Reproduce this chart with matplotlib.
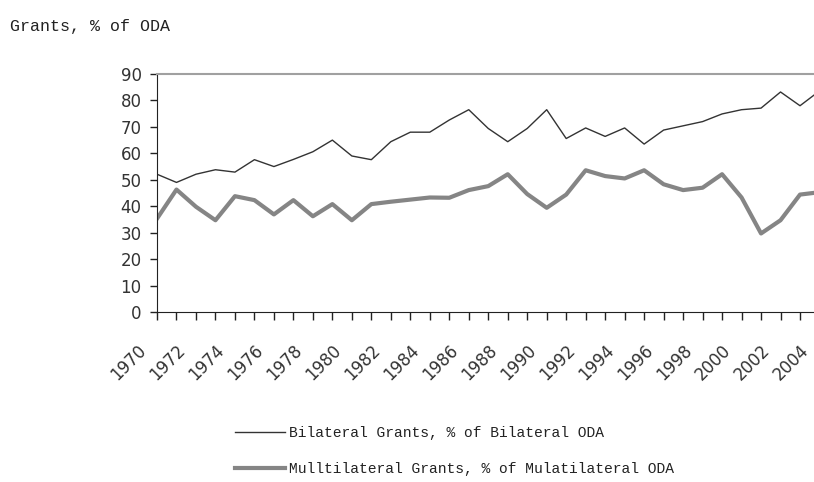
#!/usr/bin/env python

import matplotlib
matplotlib.use("Agg")
import matplotlib.pyplot as plt
from matplotlib.transforms import ScaledTranslation

years = list(range(1970, 2005))
bilateral = [52.1, 49.0, 52.1, 53.8, 52.9, 57.6, 55.0, 57.7, 60.6, 65.0,
             59.0, 57.6, 64.4, 68.0, 68.0, 72.6, 76.5, 69.4, 64.4, 69.4,
             76.5, 65.6, 69.6, 66.4, 69.6, 63.5, 68.8, 70.4, 72.0, 74.9,
             76.5, 77.1, 83.2, 78.0, 83.6]
multilateral = [35.3, 46.3, 39.8, 34.7, 43.8, 42.3, 36.9, 42.3, 36.2, 40.8,
                34.7, 40.8, 41.7, 42.5, 43.3, 43.2, 46.1, 47.6, 52.1, 44.6,
                39.4, 44.4, 53.6, 51.4, 50.5, 53.6, 48.3, 46.1, 47.0, 52.1,
                43.3, 29.7, 34.7, 44.4, 45.3]
label_bi = "Bilateral Grants, % of Bilateral ODA"
label_multi = "Mulltilateral Grants, % of Mulatilateral ODA"
title = "Grants, % of ODA"

W, H = 814, 482
fig = plt.figure(figsize=(W / 100, H / 100), dpi=100)
# axes runs a bit past the right edge like in the original
ax = fig.add_axes([157 / W, (H - 312) / H, (819.5 - 157) / W, (312 - 74) / H])

l1, = ax.plot(years, bilateral, color="#333333", lw=1.0)
l2, = ax.plot(years, multilateral, color="#858585", lw=3.0)

ax.set_xlim(1970, 2004)
ax.set_ylim(0, 90)
ax.set_yticks(range(0, 91, 10))
ax.set_xticks(range(1970, 2005, 2))
ax.set_xticks(range(1971, 2005, 2), minor=True)

ax.spines["right"].set_visible(False)
ax.spines["top"].set_color("#a0a0a0")
ax.spines["top"].set_linewidth(1.5)
ax.spines["left"].set_color("#222222")
ax.spines["bottom"].set_color("#222222")

ax.tick_params(axis="y", length=5, width=1, pad=6, labelsize=12, color="#222222")
ax.tick_params(axis="x", which="both", length=6, width=1, color="#222222")
ax.tick_params(axis="x", which="major", pad=15, labelsize=12)

shift = ScaledTranslation(-7 / 100, 0, fig.dpi_scale_trans)
for lab in ax.get_xticklabels():
    lab.set_rotation(45)
    lab.set_ha("right")
    lab.set_va("top")
    lab.set_transform(lab.get_transform() + shift)
for lab in ax.get_xticklabels() + ax.get_yticklabels():
    lab.set_fontfamily("DejaVu Sans")
    lab.set_color("#333333")

fig.text(10 / W, 1 - 27 / H, title, fontfamily="Liberation Mono",
         fontsize=12, va="center", ha="left", color="#222222")

fig.legend([l1, l2], [label_bi, label_multi], loc="upper left",
           bbox_to_anchor=(228 / W, 1 - 419 / H), frameon=False,
           prop={"family": "Liberation Mono", "size": 10.5},
           handlelength=3.4, handletextpad=0.3, labelspacing=1.5,
           borderpad=0, labelcolor="#222222")

fig.savefig("out.png", dpi=100)
